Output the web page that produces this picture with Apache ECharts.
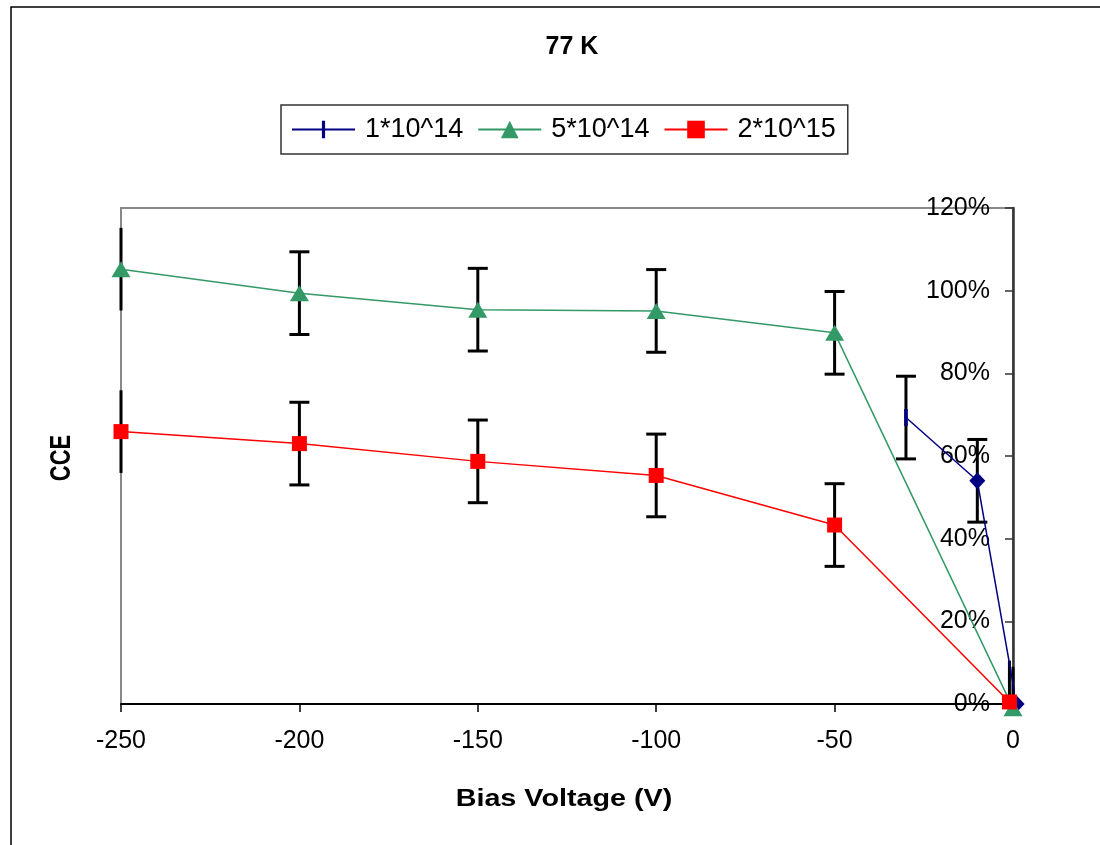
<!DOCTYPE html>
<html>
<head>
<meta charset="utf-8">
<script src="https://cdn.jsdelivr.net/npm/echarts@6/dist/echarts.min.js"></script>
<style>html,body{margin:0;padding:0;background:#fff;}#c{width:1100px;height:845px;}</style>
</head>
<body>
<div id="c"></div>
<script>
// ---- data ----
const seriesNames = ['1*10^14', '5*10^14', '2*10^15'];
const xA = [-30, -10, 1];            // 1*10^14 bias voltage (V)
const yA = [69.3, 54.0, 0];          // CCE %
const xB = [-250, -200, -150, -100, -50, 0];   // 5*10^14
const yB = [105.2, 99.4, 95.4, 95.1, 89.8, -1];
const xC = [-250, -200, -150, -100, -50, -1];  // 2*10^15
const yC = [65.9, 63.0, 58.7, 55.3, 43.3, 0.5];
const errA = [10, 10, 0];
const errB = [10, 10, 10, 10, 10, 10];
const errC = [10, 10, 10, 10, 10, 10];
const xTicks = [-250, -200, -150, -100, -50, 0];
const yTicks = [0, 20, 40, 60, 80, 100, 120];
const chartTitle = '77 K';
const xTitle = 'Bias Voltage (V)';
const yTitle = 'CCE';

const FONT = 'Liberation Sans, Arial, sans-serif';
const chart = echarts.init(document.getElementById('c'));

function pairs(xs, ys) { return xs.map((x, i) => [x, ys[i]]); }
function errData(xs, ys, es) { return xs.map((x, i) => [x, ys[i], es[i]]); }

const errAll = [].concat(errData(xA, yA, errA), errData(xB, yB, errB), errData(xC, yC, errC));

function renderErr(params, api) {
  const cs = params.coordSys;
  const x = api.value(0), y = api.value(1), e = api.value(2);
  if (!e) return { type: 'group', children: [] };
  const top = api.coord([x, y + e]);
  const bot = api.coord([x, y - e]);
  const cx = top[0];
  const yMin = cs.y, yMax = cs.y + cs.height;
  const t = Math.max(yMin, Math.min(yMax, top[1]));
  const b = Math.max(yMin, Math.min(yMax, bot[1]));
  const style = { stroke: '#000', lineWidth: 3 };
  const children = [{ type: 'line', shape: { x1: cx, y1: t, x2: cx, y2: b }, style: style }];
  const half = 10;
  const capOk = (cx - half >= cs.x) && (cx + half <= cs.x + cs.width);
  if (capOk) {
    if (top[1] >= yMin && top[1] <= yMax)
      children.push({ type: 'line', shape: { x1: cx - half, y1: top[1], x2: cx + half, y2: top[1] }, style: style });
    if (bot[1] >= yMin && bot[1] <= yMax)
      children.push({ type: 'line', shape: { x1: cx - half, y1: bot[1], x2: cx + half, y2: bot[1] }, style: style });
  }
  return { type: 'group', children: children };
}

// vertical dash marker: thin bar inside a full-width (invisible) bounding box
const DASH = 'path://M0,50 L0.1,50 Z M100,50 L99.9,50 Z M41,0 L59,0 L59,100 L41,100 Z';

const dataA = pairs(xA, yA).map((p, i) => i === 0
  ? { value: p }
  : { value: p, symbol: 'diamond', symbolSize: [16, 17] });

const option = {
  animation: false,
  backgroundColor: '#fff',
  textStyle: { fontFamily: FONT },
  legend: {
    data: seriesNames,
    left: 281, top: 105,
    padding: [11, 12, 11, 10],
    itemGap: 14,
    itemWidth: 63, itemHeight: 22,
    borderColor: '#333', borderWidth: 1.5,
    textStyle: { fontFamily: FONT, fontSize: 27, color: '#000', padding: [0, 0, 0, 5] }
  },
  grid: {
    left: 121, right: 87, top: 208, bottom: 141,
    show: true, borderColor: '#888', borderWidth: 2, backgroundColor: 'transparent'
  },
  xAxis: {
    type: 'value', min: -250, max: 0, interval: 50,
    axisLine: { onZero: false, lineStyle: { color: '#000', width: 2 } },
    axisTick: { show: true, length: 8, lineStyle: { color: '#000', width: 1.5 } },
    axisLabel: { fontFamily: FONT, fontSize: 25, color: '#000', margin: 25,
      formatter: v => xTicks.includes(v) ? String(v) : '' },
    splitLine: { show: false }
  },
  yAxis: {
    type: 'value', position: 'right', min: 0, max: 120, interval: 20,
    axisLine: { show: true, lineStyle: { color: '#333', width: 2.5 } },
    axisTick: { show: true, inside: true, length: 8, lineStyle: { color: '#333', width: 1.5 } },
    axisLabel: { inside: true, margin: 23, fontFamily: FONT, fontSize: 25, color: '#000',
      formatter: v => yTicks.includes(v) ? v + '%' : '' },
    splitLine: { show: false }
  },
  graphic: [
    { type: 'rect', shape: { x: 11, y: 7, width: 1200, height: 900 },
      style: { fill: 'none', stroke: '#000', lineWidth: 1.5 }, z: 0, silent: true },
    { type: 'text', x: 572, y: 47,
      style: { text: chartTitle, fontFamily: FONT, fontSize: 25, fontWeight: 'bold', fill: '#000',
        textAlign: 'center', textVerticalAlign: 'middle' } },
    { type: 'text', x: 564, y: 800, scaleX: 1.25,
      style: { text: xTitle, fontFamily: FONT, fontSize: 23, fontWeight: 'bold', fill: '#000',
        textAlign: 'center', textVerticalAlign: 'middle' } },
    { type: 'text', x: 62, y: 458, rotation: Math.PI / 2, scaleY: 1.3,
      style: { text: yTitle, fontFamily: FONT, fontSize: 22, fontWeight: 'bold', fill: '#000',
        textAlign: 'center', textVerticalAlign: 'middle' } }
  ],
  series: [
    { type: 'custom', name: 'err', renderItem: renderErr, data: errAll, z: 1,
      encode: { x: 0, y: 1 }, clip: false, silent: true },
    { type: 'line', name: seriesNames[0], data: dataA, z: 3, clip: false,
      symbol: DASH, symbolSize: [20, 17],
      lineStyle: { color: '#000080', width: 1.5 }, itemStyle: { color: '#000080' } },
    { type: 'line', name: seriesNames[1], data: pairs(xB, yB), z: 3, clip: false,
      symbol: 'triangle', symbolSize: [19, 16],
      lineStyle: { color: '#339966', width: 1.5 }, itemStyle: { color: '#339966' } },
    { type: 'line', name: seriesNames[2], data: pairs(xC, yC), z: 3, clip: false,
      symbol: 'rect', symbolSize: 15,
      lineStyle: { color: '#ff0000', width: 1.5 }, itemStyle: { color: '#ff0000' } }
  ]
};
chart.setOption(option);
</script>
</body>
</html>
